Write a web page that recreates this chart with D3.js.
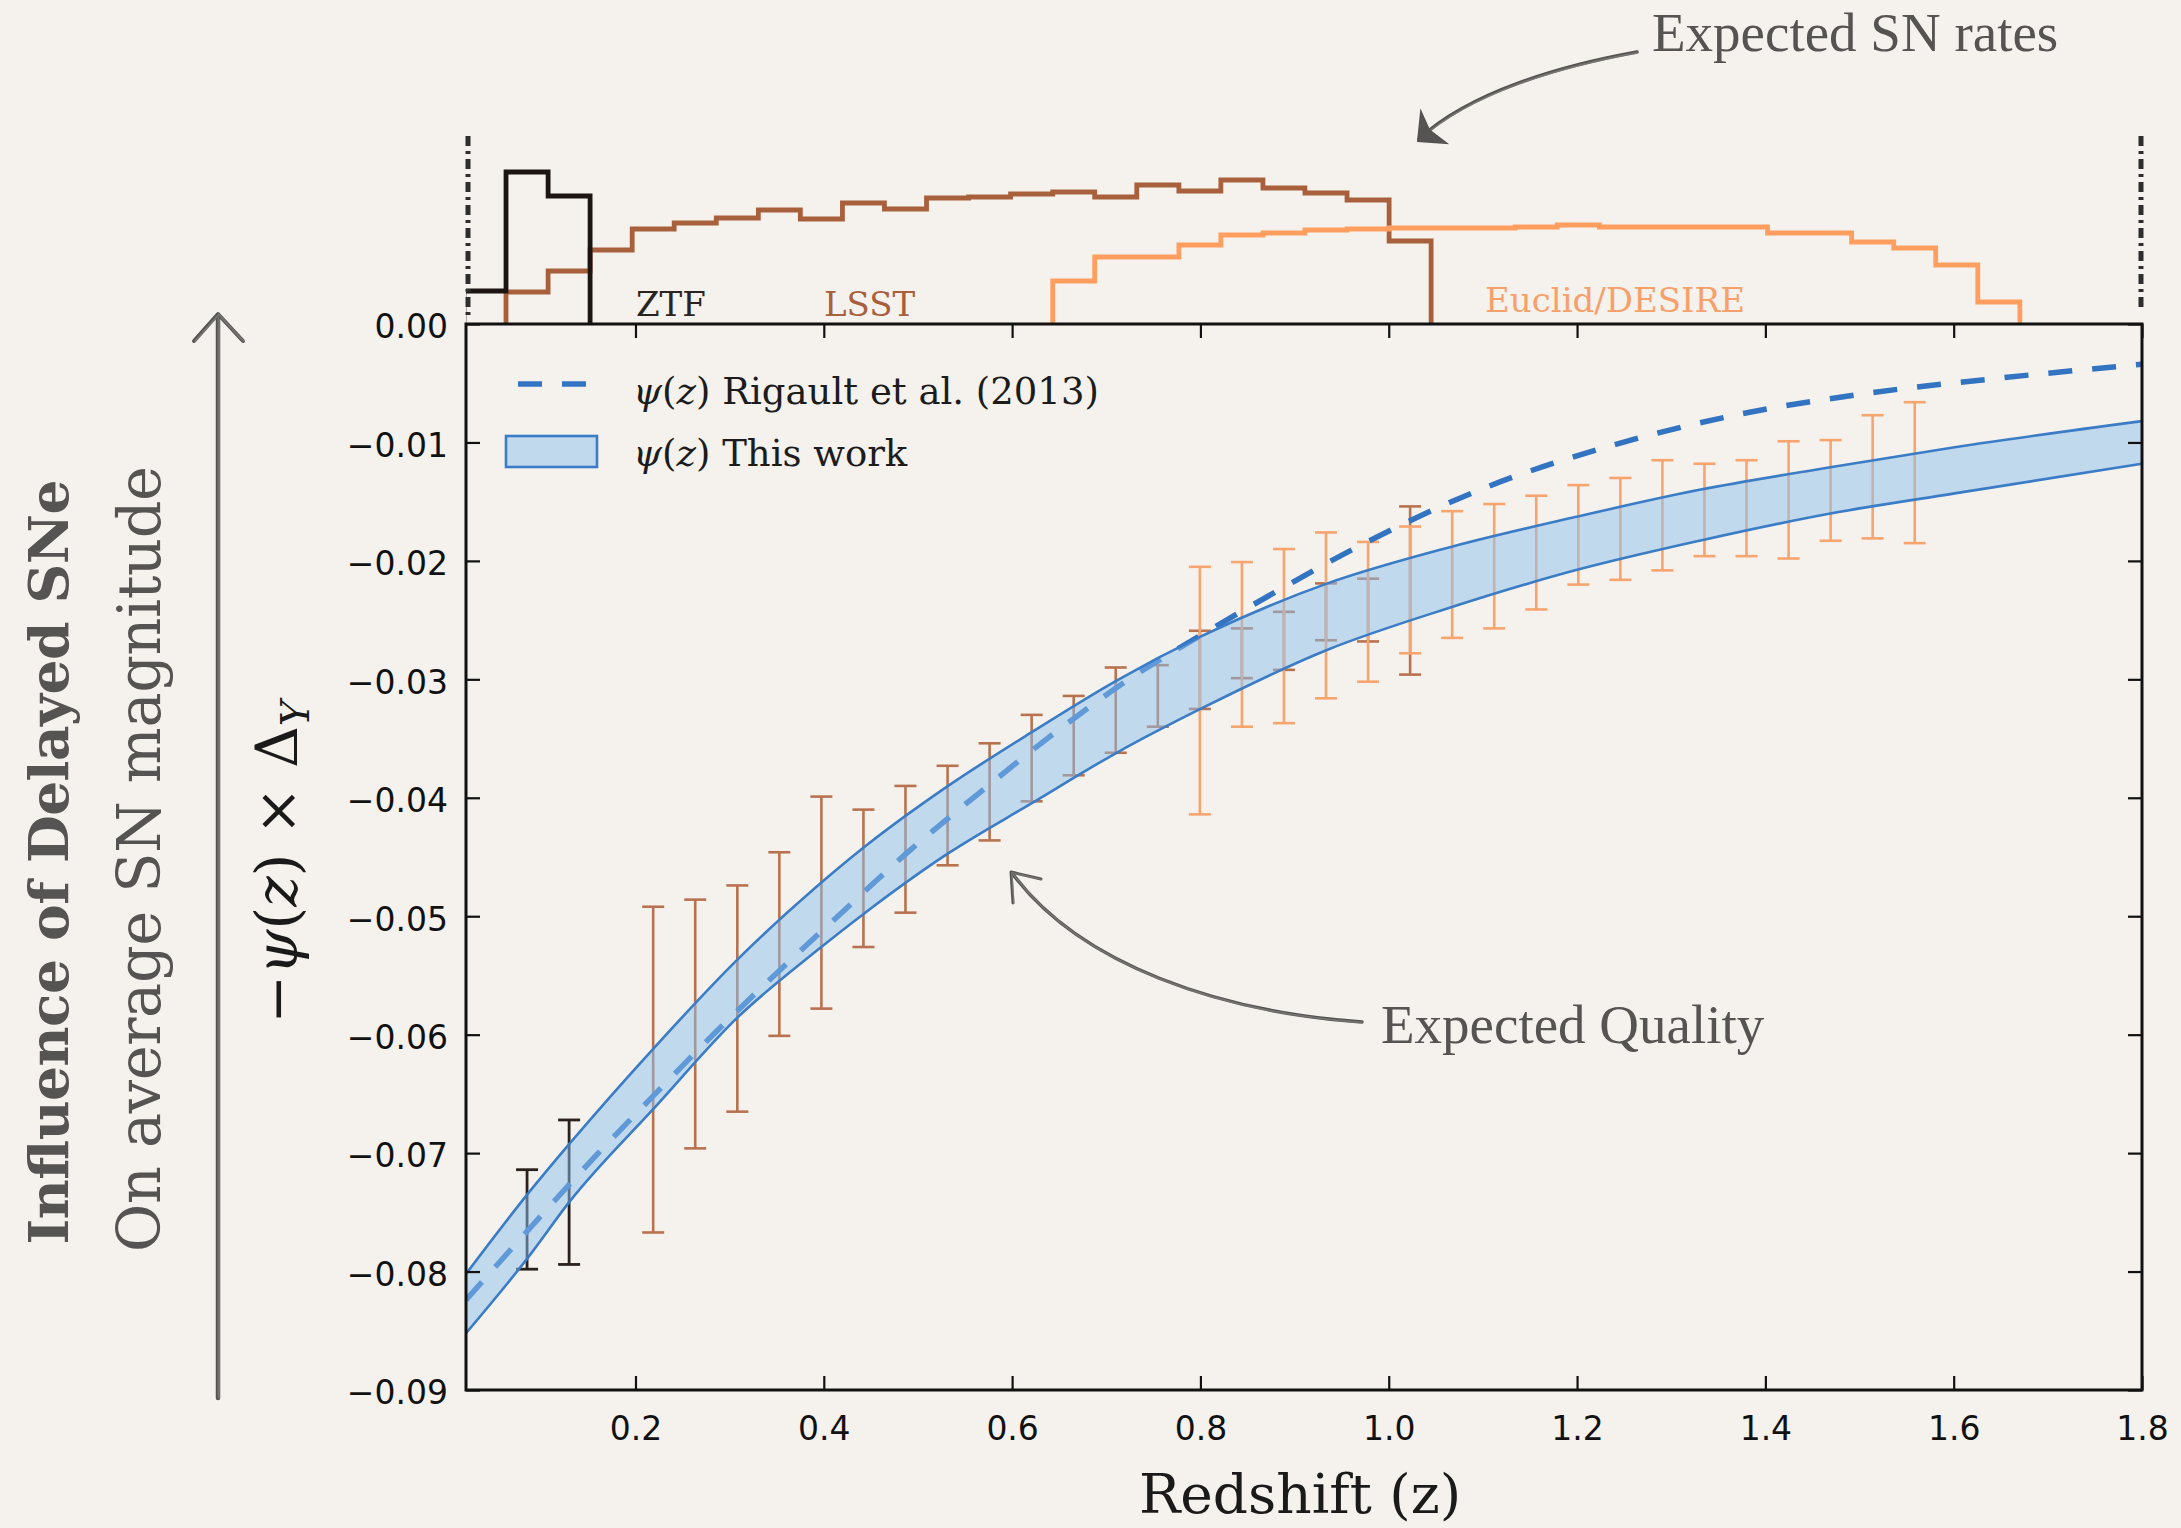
<!DOCTYPE html>
<html>
<head>
<meta charset="utf-8">
<script src="https://cdn.jsdelivr.net/npm/d3@7"></script>
<style>
  html, body { margin: 0; padding: 0; background: #f5f2ed; }
  svg { display: block; }
</style>
</head>
<body>
<svg id="chart" width="2181" height="1528"></svg>
<script>
// ---- data -------------------------------------------------------------
// redshift bin edges shared by the survey rate histograms
const binEdges = [0.0178,0.0625,0.1072,0.1518,0.1965,0.2411,0.2858,0.3305,0.3751,0.4198,
  0.4644,0.5091,0.5538,0.5984,0.6431,0.6877,0.7324,0.7771,0.8217,0.8664,0.9110,0.9557,
  1.0004,1.0450,1.0897,1.1343,1.1790,1.2237,1.2683,1.3130,1.3576,1.4023,1.4470,1.4916,
  1.5363,1.5809,1.6256,1.6703];

// expected SN rates per bin (arbitrary units); firstBin = index into binEdges
const ztfFirstBin = 0;
const ztfRates = [33, 152, 128];
const lsstFirstBin = 1;
const lsstRates = [32, 53, 74, 95, 101, 106, 114, 105, 121, 115, 126, 127, 130, 132, 127, 139,
  133, 144, 136, 131, 124, 83];
const euclidFirstBin = 14;
const euclidRates = [43, 67, 67, 79, 89, 91, 94, 95, 96, 96, 96, 97, 99, 97, 97, 97, 97, 91, 91,
  82, 76, 59, 22];

// expected uncertainty ranges at bin centres
const ztfErrBins = [1, 2];
const ztfErrTop = [-0.0714, -0.0672];
const ztfErrBottom = [-0.0798, -0.0794];

const lsstErrBins = [4,5,6,7,8,9,10,11,12,13,14,15,16,17,18,19,20,21,22];
const lsstErrTop = [-0.0492,-0.0486,-0.0474,-0.0446,-0.0399,-0.0410,-0.0390,-0.0373,-0.0354,
  -0.0330,-0.0314,-0.0290,-0.0288,-0.0259,-0.0257,-0.0243,-0.0219,-0.0215,-0.0154];
const lsstErrBottom = [-0.0767,-0.0696,-0.0665,-0.0601,-0.0578,-0.0526,-0.0497,-0.0457,-0.0436,
  -0.0403,-0.0381,-0.0362,-0.0340,-0.0325,-0.0299,-0.0292,-0.0267,-0.0268,-0.0296];

const euclidErrBins = [17,18,19,20,21,22,23,24,25,26,27,28,29,30,31,32,33,34];
const euclidErrTop = [-0.0205,-0.0201,-0.0190,-0.0176,-0.0184,-0.0171,-0.0158,-0.0152,-0.0145,
  -0.0136,-0.0130,-0.0115,-0.0118,-0.0115,-0.0099,-0.0098,-0.0077,-0.0066];
const euclidErrBottom = [-0.0414,-0.0340,-0.0337,-0.0316,-0.0302,-0.0278,-0.0265,-0.0257,-0.0241,
  -0.0220,-0.0216,-0.0208,-0.0196,-0.0196,-0.0198,-0.0183,-0.0181,-0.0185];

// psi(z) x Delta_Y, this work (band)
const bandZ     = [0.02, 0.086, 0.130, 0.221, 0.309, 0.391, 0.444, 0.532, 0.620, 0.711, 0.800,
  0.935, 1.067, 1.198, 1.330, 1.469, 1.601, 1.800];
const bandUpper = [-0.0802,-0.0734,-0.0692,-0.0610,-0.0536,-0.0476,-0.0441,-0.0390,-0.0345,
  -0.0301,-0.0264,-0.0219,-0.0188,-0.0163,-0.0140,-0.0121,-0.0104,-0.0082];
const bandLower = [-0.0852,-0.0788,-0.0741,-0.0661,-0.0585,-0.0530,-0.0497,-0.0447,-0.0405,
  -0.0362,-0.0325,-0.0275,-0.0239,-0.0208,-0.0183,-0.0160,-0.0143,-0.0118];

// psi(z) x Delta_Y, Rigault et al. (2013)
const rigaultZ = [0.02, 0.086, 0.157, 0.221, 0.285, 0.358, 0.419, 0.492, 0.565, 0.639, 0.724,
  0.800, 0.887, 0.972, 1.103, 1.235, 1.374, 1.513, 1.645, 1.800];
const rigaultPsi = [-0.0824,-0.0765,-0.0703,-0.0650,-0.0598,-0.0542,-0.0497,-0.0444,-0.0396,
  -0.0349,-0.0300,-0.0263,-0.0223,-0.0186,-0.0138,-0.0103,-0.0076,-0.0058,-0.0046,-0.0034];

const xTicks = [0.2, 0.4, 0.6, 0.8, 1.0, 1.2, 1.4, 1.6, 1.8];
const yTicks = [0, -0.01, -0.02, -0.03, -0.04, -0.05, -0.06, -0.07, -0.08, -0.09];

// ---- layout -----------------------------------------------------------
const plot = { left: 466, right: 2142, top: 324, bottom: 1390 };
const histTop = 136;

const colors = {
  ztf: "#1d1512", lsst: "#a8603c", euclid: "#ff9e5e",
  lsstErr: "#b8724f", euclidErr: "#f8a46f", ztfErr: "#2b211c",
  band: "#8cc0ee", bandEdge: "#3b7cc6", rigault: "#3273c2", ink: "#111", note: "#565453"
};
const cmFont = "'DejaVu Serif', serif";

const svg = d3.select("#chart");
const x = d3.scaleLinear().domain([0.02, 1.8]).range([plot.left, plot.right]);
const y = d3.scaleLinear().domain([-0.09, 0]).range([plot.bottom, plot.top]);
const yh = d3.scaleLinear().domain([0, 188]).range([plot.top, histTop]);

const defs = svg.append("defs");
defs.append("clipPath").attr("id", "plotClip").append("rect")
  .attr("x", plot.left).attr("y", plot.top)
  .attr("width", plot.right - plot.left).attr("height", plot.bottom - plot.top);
defs.append("clipPath").attr("id", "histClip").append("rect")
  .attr("x", plot.left).attr("y", histTop - 20)
  .attr("width", plot.right - plot.left).attr("height", plot.top - histTop + 22);

// ---- rate histograms --------------------------------------------------
function stepPoints(first, rates) {
  const pts = [[binEdges[first], 0]];
  rates.forEach((r, i) => {
    pts.push([binEdges[first + i], r]);
    pts.push([binEdges[first + i + 1], r]);
  });
  pts.push([binEdges[first + rates.length], 0]);
  return pts;
}
const stepLine = d3.line().x(d => x(d[0])).y(d => yh(d[1]));
const hist = svg.append("g").attr("clip-path", "url(#histClip)");
[[lsstFirstBin, lsstRates, colors.lsst],
 [euclidFirstBin, euclidRates, colors.euclid],
 [ztfFirstBin, ztfRates, colors.ztf]].forEach(([first, rates, c]) => {
  hist.append("path").attr("d", stepLine(stepPoints(first, rates)))
    .attr("fill", "none").attr("stroke", c).attr("stroke-width", 4.8)
    .attr("stroke-linejoin", "miter");
});

// dashed rate-axis columns at both sides of the histogram panel
[[plot.left + 2, 318], [plot.right - 1, 312]].forEach(([xx, yb]) => {
  svg.append("line").attr("x1", xx).attr("x2", xx).attr("y1", histTop).attr("y2", yb)
    .attr("stroke", "#2e2e2e").attr("stroke-width", 5)
    .attr("stroke-dasharray", "10,5,3,5");
});

const histLabel = (txt, xx, yy, c) => svg.append("text").attr("x", xx).attr("y", yy)
  .text(txt).attr("fill", c)
  .style("font-family", cmFont).style("font-size", "34px");
histLabel("ZTF", 636, 316, "#2a2420");
histLabel("LSST", 824, 316, colors.lsst);
histLabel("Euclid/DESIRE", 1485, 312, "#f7a06a");

// ---- main panel -------------------------------------------------------
const main = svg.append("g").attr("clip-path", "url(#plotClip)");
const binCenter = b => (binEdges[b] + binEdges[b + 1]) / 2;

function errorBars(bins, top, bottom, c, w) {
  const g = main.append("g").attr("stroke", c).attr("stroke-width", w).attr("fill", "none");
  bins.forEach((b, i) => {
    const cx = x(binCenter(b));
    g.append("line").attr("x1", cx).attr("x2", cx).attr("y1", y(top[i])).attr("y2", y(bottom[i]));
    [top[i], bottom[i]].forEach(v => g.append("line")
      .attr("x1", cx - 11).attr("x2", cx + 11).attr("y1", y(v)).attr("y2", y(v)));
  });
}
errorBars(lsstErrBins, lsstErrTop, lsstErrBottom, colors.lsstErr, 2.6);
errorBars(euclidErrBins, euclidErrTop, euclidErrBottom, colors.euclidErr, 2.6);
errorBars(ztfErrBins, ztfErrTop, ztfErrBottom, colors.ztfErr, 2.8);

const rigault = rigaultZ.map((z, i) => ({ z, v: rigaultPsi[i] }));
main.append("path")
  .attr("d", d3.line().x(d => x(d.z)).y(d => y(d.v)).curve(d3.curveMonotoneX)(rigault))
  .attr("fill", "none").attr("stroke", colors.rigault).attr("stroke-width", 5.5)
  .attr("stroke-dasharray", "24,20");

const band = bandZ.map((z, i) => ({ z, hi: bandUpper[i], lo: bandLower[i] }));
main.append("path")
  .attr("d", d3.area().x(d => x(d.z)).y0(d => y(d.lo)).y1(d => y(d.hi))
    .curve(d3.curveMonotoneX)(band))
  .attr("fill", colors.band).attr("fill-opacity", 0.5);
["hi", "lo"].forEach(k => main.append("path")
  .attr("d", d3.line().x(d => x(d.z)).y(d => y(d[k])).curve(d3.curveMonotoneX)(band))
  .attr("fill", "none").attr("stroke", colors.bandEdge).attr("stroke-width", 2.6));

// ---- axes -------------------------------------------------------------
const tickFont = g => g.selectAll("text")
  .style("font-family", "'DejaVu Sans', sans-serif").style("font-size", "33px").attr("fill", colors.ink);
const axStyle = g => {
  g.select(".domain").remove();
  g.selectAll(".tick line").attr("stroke", "#111").attr("stroke-width", 2.2);
};

svg.append("g").attr("transform", `translate(${plot.left},0)`)
  .call(d3.axisLeft(y).tickValues(yTicks).tickFormat(d3.format(".2f"))
    .tickSize(-14).tickSizeOuter(0).tickPadding(18))
  .call(axStyle).call(tickFont)
  .call(g => g.selectAll("text").attr("dy", "0.42em"));

svg.append("g").attr("transform", `translate(${plot.right},0)`)
  .call(d3.axisRight(y).tickValues(yTicks).tickFormat("").tickSize(-14).tickSizeOuter(0))
  .call(axStyle);

svg.append("g").attr("transform", `translate(0,${plot.bottom})`)
  .call(d3.axisBottom(x).tickValues(xTicks).tickFormat(d3.format(".1f"))
    .tickSize(-14).tickSizeOuter(0).tickPadding(27))
  .call(axStyle).call(tickFont);

svg.append("g").attr("transform", `translate(0,${plot.top})`)
  .call(d3.axisTop(x).tickValues(xTicks).tickFormat("").tickSize(-14).tickSizeOuter(0))
  .call(axStyle);

svg.append("rect").attr("x", plot.left).attr("y", plot.top)
  .attr("width", plot.right - plot.left).attr("height", plot.bottom - plot.top)
  .attr("fill", "none").attr("stroke", "#111").attr("stroke-width", 3);

// axis titles
svg.append("text").attr("x", 1300).attr("y", 1513).attr("text-anchor", "middle")
  .style("font-family", cmFont).style("font-size", "55px").attr("fill", "#1a1a1a")
  .text("Redshift (z)");

const yTitle = svg.append("text").attr("transform", "translate(297,862) rotate(-90)")
  .attr("text-anchor", "middle").attr("fill", "#1a1a1a")
  .style("font-family", cmFont).style("font-size", "58px");
yTitle.append("tspan").text("\u2212");
yTitle.append("tspan").style("font-style", "italic").text("\u03c8");
yTitle.append("tspan").text("(");
yTitle.append("tspan").style("font-style", "italic").text("z");
yTitle.append("tspan").text(") \u00d7 \u0394");
yTitle.append("tspan").style("font-style", "italic").style("font-size", "39px")
  .attr("dy", "0.3em").text("Y");

// ---- legend -----------------------------------------------------------
svg.append("line").attr("x1", 518).attr("x2", 596).attr("y1", 384).attr("y2", 384)
  .attr("stroke", colors.rigault).attr("stroke-width", 5.5).attr("stroke-dasharray", "24,20");
svg.append("rect").attr("x", 506).attr("y", 436).attr("width", 91).attr("height", 31)
  .attr("fill", colors.band).attr("fill-opacity", 0.5)
  .attr("stroke", colors.bandEdge).attr("stroke-width", 2.6);
function legendText(yy, rest) {
  const t = svg.append("text").attr("x", 633).attr("y", yy).attr("fill", "#1c1c1c")
    .style("font-family", cmFont).style("font-size", "37px");
  t.append("tspan").style("font-style", "italic").text("\u03c8");
  t.append("tspan").text("(");
  t.append("tspan").style("font-style", "italic").text("z");
  t.append("tspan").text(") " + rest);
}
legendText(404, "Rigault et al. (2013)");
legendText(466, "This work");

// ---- side annotations -------------------------------------------------
const noteFont = "'Liberation Serif', serif";
svg.append("text").attr("transform", "translate(68,862) rotate(-90)")
  .attr("text-anchor", "middle").attr("fill", colors.note)
  .attr("textLength", 765).attr("lengthAdjust", "spacing")
  .style("font-family", cmFont).style("font-size", "55px").style("font-weight", "bold")
  .text("Influence of Delayed SNe");
svg.append("text").attr("transform", "translate(160,859) rotate(-90)")
  .attr("text-anchor", "middle").attr("fill", colors.note)
  .attr("textLength", 786).attr("lengthAdjust", "spacing")
  .style("font-family", cmFont).style("font-size", "59px")
  .text("On average SN magnitude");

// long upward arrow next to the titles
const pencil = (d, w) => {
  svg.append("path").attr("d", d).attr("fill", "none").attr("stroke", "#555452")
    .attr("stroke-width", w).attr("stroke-linecap", "round").attr("stroke-linejoin", "round");
  svg.append("path").attr("d", d).attr("fill", "none").attr("stroke", "#8a8886")
    .attr("stroke-width", w * 0.5).attr("stroke-opacity", 0.6).attr("transform", "translate(0.8,0.6)");
};
pencil("M218,1398 L218,316", 4.5);
pencil("M194,341 L218,314 L243,341", 4);

svg.append("text").attr("x", 1652).attr("y", 51).attr("fill", colors.note)
  .style("font-family", noteFont).style("font-size", "55px").text("Expected SN rates");
pencil("M1637,52 C1560,66 1470,92 1419,139", 3.5);
svg.append("path").attr("d", "M1418,141 L1421,112 L1429,130 L1446,143 Z")
  .attr("fill", "#555452").attr("stroke", "#555452").attr("stroke-width", 2);

svg.append("text").attr("x", 1381).attr("y", 1043).attr("fill", colors.note)
  .style("font-family", noteFont).style("font-size", "55px").text("Expected Quality");
pencil("M1362,1022 C1220,1012 1080,965 1012,873", 3.5);
pencil("M1013,903 L1011,872 L1041,879", 3);
</script>
</body>
</html>
